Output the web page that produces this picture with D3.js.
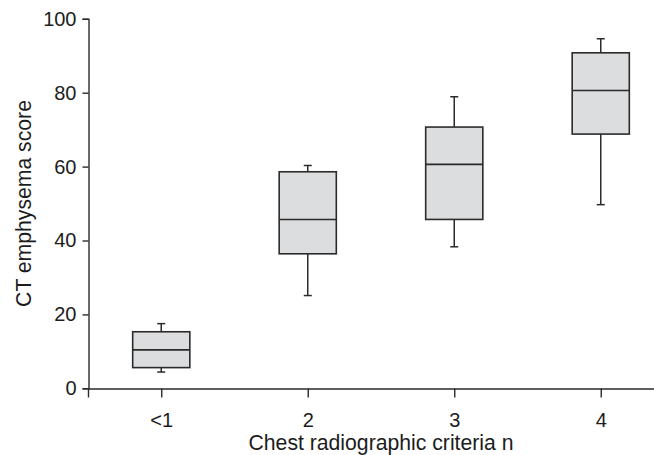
<!DOCTYPE html>
<html><head><meta charset="utf-8">
<script src="https://cdn.jsdelivr.net/npm/d3@7"></script>
<style>html,body{margin:0;padding:0;background:#fff;overflow:hidden}svg{display:block}</style>
</head><body>
<svg id="chart" width="654" height="455"></svg>
<script>
const categories = ["<1", "2", "3", "4"];
const whiskerLow = [4.4, 25.1, 38.3, 49.7];
const q1 = [5.6, 36.4, 45.7, 68.8];
const median = [10.4, 45.7, 60.6, 80.6];
const q3 = [15.3, 58.6, 70.7, 90.8];
const whiskerHigh = [17.5, 60.3, 78.9, 94.6];
const yTicks = [0, 20, 40, 60, 80, 100];

const svg = d3.select("#chart");
const ink = "#2b2b2b";
const font = "'Liberation Sans', Arial, Helvetica, sans-serif";

const x = d3.scalePoint().domain(categories).range([88, 674]).padding(0.5);
const y = d3.scaleLinear().domain([0, 100]).range([388.3, 18.8]);
const boxW = x.step() * 0.39;
const capW = 8;

const data = categories.map((c, i) => ({c, lo: whiskerLow[i], q1: q1[i], med: median[i], q3: q3[i], hi: whiskerHigh[i]}));

const g = svg.append("g");
const box = g.selectAll("g.box").data(data).join("g").attr("class", "box");
box.append("line").attr("x1", d => x(d.c)).attr("x2", d => x(d.c)).attr("y1", d => y(d.hi)).attr("y2", d => y(d.q3)).attr("stroke", ink).attr("stroke-width", 1.5);
box.append("line").attr("x1", d => x(d.c)).attr("x2", d => x(d.c)).attr("y1", d => y(d.q1)).attr("y2", d => y(d.lo)).attr("stroke", ink).attr("stroke-width", 1.5);
box.append("line").attr("x1", d => x(d.c) - capW/2).attr("x2", d => x(d.c) + capW/2).attr("y1", d => y(d.hi)).attr("y2", d => y(d.hi)).attr("stroke", ink).attr("stroke-width", 1.5);
box.append("line").attr("x1", d => x(d.c) - capW/2).attr("x2", d => x(d.c) + capW/2).attr("y1", d => y(d.lo)).attr("y2", d => y(d.lo)).attr("stroke", ink).attr("stroke-width", 1.5);
box.append("rect").attr("x", d => x(d.c) - boxW/2).attr("width", boxW).attr("y", d => y(d.q3)).attr("height", d => y(d.q1) - y(d.q3)).attr("fill", "#dcdddf").attr("stroke", ink).attr("stroke-width", 1.6);
box.append("line").attr("x1", d => x(d.c) - boxW/2).attr("x2", d => x(d.c) + boxW/2).attr("y1", d => y(d.med)).attr("y2", d => y(d.med)).attr("stroke", ink).attr("stroke-width", 1.6);

const yAxis = svg.append("g").attr("transform", "translate(88.5,0)")
  .call(d3.axisLeft(y).tickValues(yTicks).tickSize(6).tickPadding(6));
const xAxis = svg.append("g").attr("transform", "translate(0,388.5)")
  .call(d3.axisBottom(x).tickSize(9).tickPadding(15));
[yAxis, xAxis].forEach(a => {
  a.selectAll("path,line").attr("stroke", ink).attr("stroke-width", 1.4);
  a.selectAll("text").attr("fill", "#1c1c1c").style("font-family", font).style("font-size", "20px");
});

svg.append("text").attr("x", 381).attr("y", 450).attr("text-anchor", "middle")
  .style("font-family", font).style("font-size", "21.2px").attr("fill", "#1c1c1c")
  .text("Chest radiographic criteria n");
svg.append("text").attr("transform", "translate(31,203.5) rotate(-90)").attr("text-anchor", "middle")
  .style("font-family", font).style("font-size", "21.2px").attr("fill", "#1c1c1c")
  .text("CT emphysema score");
</script>
</body></html>
